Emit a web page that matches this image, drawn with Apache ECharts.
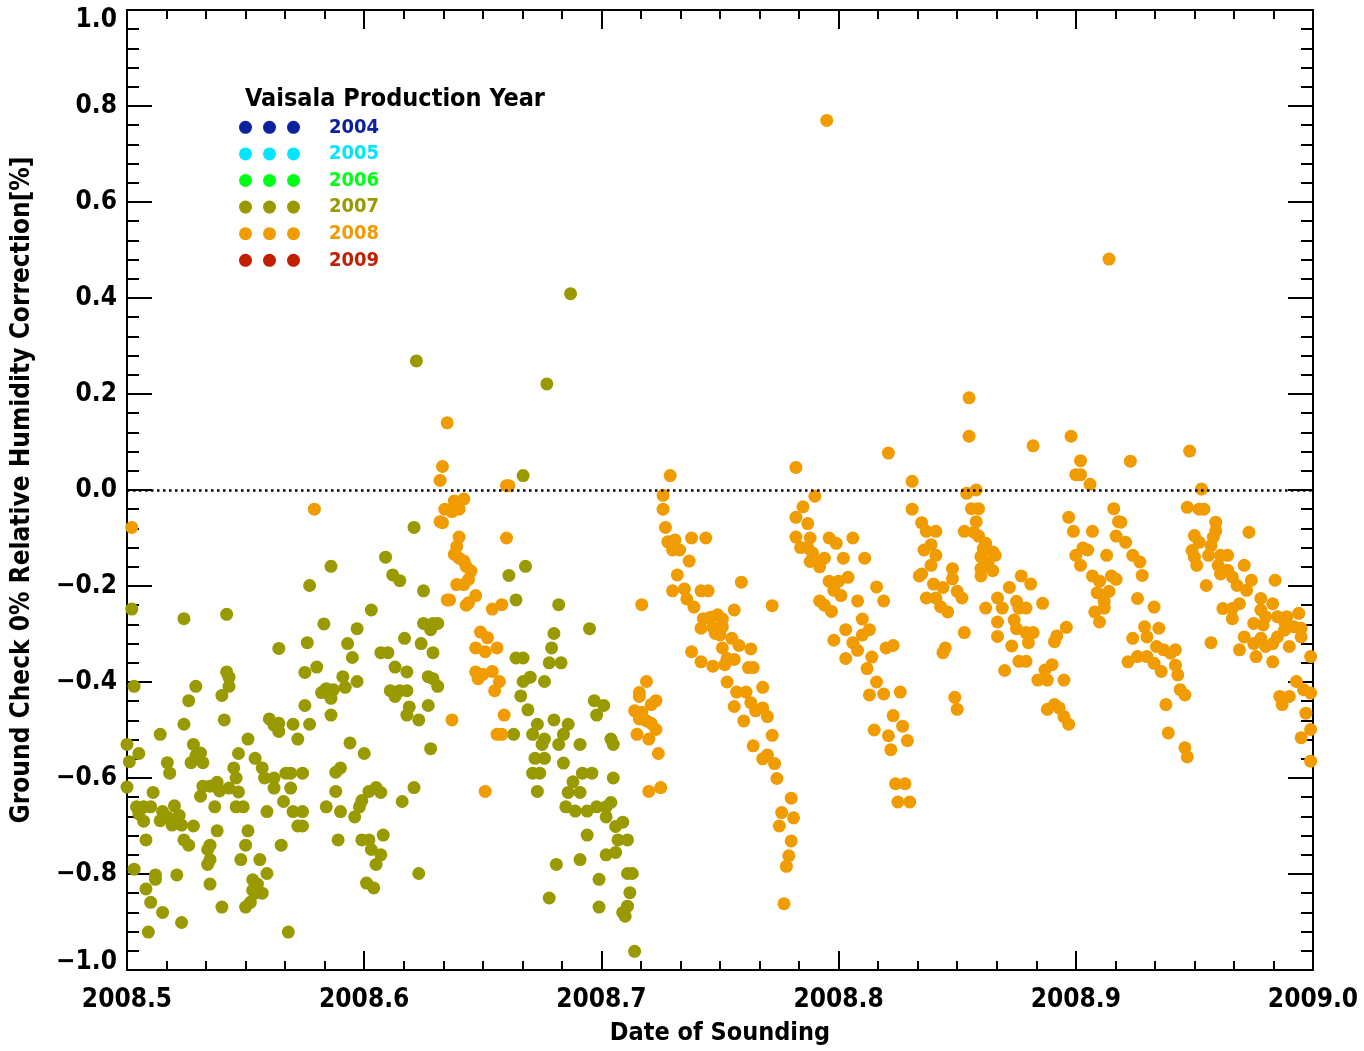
<!DOCTYPE html>
<html>
<head>
<meta charset="utf-8">
<script src="https://cdn.jsdelivr.net/npm/echarts@6/dist/echarts.min.js"></script>
<style>
html,body{margin:0;padding:0;background:#fff;}
#chart{width:1364px;height:1051px;}
</style>
</head>
<body>
<div id="chart"></div>
<script>
// ---- data ----
const xTicks = [2008.5, 2008.6, 2008.7, 2008.8, 2008.9, 2009.0];
const yTicks = [-1.0, -0.8, -0.6, -0.4, -0.2, 0.0, 0.2, 0.4, 0.6, 0.8, 1.0];
const years = ['2004', '2005', '2006', '2007', '2008', '2009'];
const yearColors = ['#0a22a0', '#00e6ff', '#00ff14', '#999900', '#f09b00', '#c41e00'];

// production year 2007 radiosondes: [date of sounding, correction %]
const points2007 = [
 [2008.502,-0.248],[2008.524,-0.268],[2008.542,-0.259],[2008.577,-0.199],[2008.564,-0.330],[2008.576,-0.318],
 [2008.575,-0.380],[2008.580,-0.369],[2008.542,-0.379],[2008.543,-0.390],[2008.543,-0.409],[2008.540,-0.428],
 [2008.503,-0.409],[2008.529,-0.409],[2008.526,-0.439],[2008.575,-0.449],[2008.577,-0.488],[2008.541,-0.479],
 [2008.524,-0.488],[2008.560,-0.477],[2008.562,-0.490],[2008.564,-0.503],[2008.564,-0.486],[2008.570,-0.488],
 [2008.572,-0.519],[2008.514,-0.509],[2008.551,-0.519],[2008.500,-0.530],[2008.505,-0.549],[2008.501,-0.566],
 [2008.528,-0.530],[2008.531,-0.548],[2008.529,-0.554],[2008.527,-0.568],[2008.532,-0.568],[2008.517,-0.568],
 [2008.518,-0.590],[2008.547,-0.549],[2008.545,-0.579],[2008.546,-0.600],[2008.543,-0.621],[2008.547,-0.629],
 [2008.554,-0.559],[2008.557,-0.579],[2008.558,-0.600],[2008.562,-0.600],[2008.562,-0.621],[2008.567,-0.590],
 [2008.569,-0.590],[2008.569,-0.621],[2008.574,-0.590],[2008.500,-0.619],[2008.511,-0.630],[2008.531,-0.638],
 [2008.532,-0.617],[2008.535,-0.617],[2008.538,-0.609],[2008.539,-0.627],[2008.537,-0.660],[2008.546,-0.660],
 [2008.549,-0.660],[2008.559,-0.670],[2008.566,-0.649],[2008.570,-0.670],[2008.574,-0.670],[2008.572,-0.700],
 [2008.574,-0.700],[2008.504,-0.660],[2008.507,-0.660],[2008.510,-0.660],[2008.505,-0.675],[2008.507,-0.690],
 [2008.515,-0.670],[2008.514,-0.689],[2008.517,-0.681],[2008.519,-0.698],[2008.520,-0.658],[2008.523,-0.698],
 [2008.522,-0.678],[2008.528,-0.700],[2008.508,-0.729],[2008.524,-0.729],[2008.526,-0.740],[2008.538,-0.710],
 [2008.551,-0.710],[2008.535,-0.740],[2008.534,-0.749],[2008.535,-0.770],[2008.534,-0.780],[2008.550,-0.740],
 [2008.548,-0.770],[2008.565,-0.740],[2008.503,-0.790],[2008.512,-0.802],[2008.512,-0.811],[2008.521,-0.802],
 [2008.556,-0.770],[2008.559,-0.799],[2008.553,-0.812],[2008.555,-0.821],[2008.557,-0.840],[2008.553,-0.834],
 [2008.554,-0.840],[2008.508,-0.831],[2008.510,-0.859],[2008.515,-0.880],[2008.535,-0.821],[2008.540,-0.869],
 [2008.550,-0.869],[2008.552,-0.859],[2008.523,-0.901],[2008.509,-0.921],[2008.568,-0.921],
 [2008.622,0.269],[2008.621,-0.078],[2008.609,-0.140],[2008.586,-0.159],[2008.612,-0.177],[2008.615,-0.189],
 [2008.661,-0.178],[2008.625,-0.210],[2008.664,-0.229],[2008.603,-0.250],[2008.583,-0.279],[2008.597,-0.289],
 [2008.625,-0.278],[2008.629,-0.278],[2008.631,-0.278],[2008.628,-0.291],[2008.617,-0.309],[2008.593,-0.320],
 [2008.595,-0.349],[2008.624,-0.320],[2008.607,-0.339],[2008.610,-0.339],[2008.629,-0.339],[2008.664,-0.350],
 [2008.613,-0.369],[2008.618,-0.379],[2008.591,-0.389],[2008.597,-0.399],[2008.592,-0.411],[2008.584,-0.414],
 [2008.587,-0.416],[2008.586,-0.434],[2008.582,-0.422],[2008.627,-0.389],[2008.629,-0.393],[2008.631,-0.409],
 [2008.611,-0.418],[2008.615,-0.418],[2008.618,-0.418],[2008.613,-0.430],[2008.619,-0.452],[2008.618,-0.469],
 [2008.623,-0.479],[2008.627,-0.449],[2008.586,-0.469],[2008.663,-0.509],[2008.594,-0.527],[2008.600,-0.549],
 [2008.590,-0.579],[2008.588,-0.588],[2008.628,-0.539],[2008.588,-0.628],[2008.584,-0.660],[2008.590,-0.670],
 [2008.602,-0.628],[2008.605,-0.620],[2008.607,-0.630],[2008.599,-0.647],[2008.598,-0.660],[2008.596,-0.681],
 [2008.616,-0.649],[2008.621,-0.620],[2008.589,-0.729],[2008.599,-0.729],[2008.602,-0.729],[2008.603,-0.749],
 [2008.607,-0.760],[2008.605,-0.780],[2008.608,-0.719],[2008.623,-0.799],[2008.601,-0.819],[2008.604,-0.829],
 [2008.677,0.221],[2008.687,0.409],[2008.667,0.030],[2008.682,-0.239],[2008.695,-0.289],[2008.668,-0.159],
 [2008.680,-0.299],[2008.679,-0.329],[2008.678,-0.360],[2008.683,-0.360],[2008.676,-0.399],[2008.667,-0.350],
 [2008.670,-0.390],[2008.667,-0.399],[2008.666,-0.429],[2008.669,-0.458],[2008.697,-0.439],[2008.701,-0.449],
 [2008.698,-0.469],[2008.680,-0.479],[2008.686,-0.488],[2008.673,-0.488],[2008.671,-0.509],[2008.676,-0.519],
 [2008.675,-0.530],[2008.682,-0.530],[2008.684,-0.509],[2008.691,-0.530],[2008.704,-0.519],[2008.705,-0.530],
 [2008.672,-0.559],[2008.676,-0.559],[2008.671,-0.590],[2008.674,-0.590],[2008.673,-0.628],[2008.684,-0.569],
 [2008.692,-0.590],[2008.696,-0.590],[2008.688,-0.608],[2008.686,-0.630],[2008.691,-0.630],[2008.685,-0.660],
 [2008.689,-0.669],[2008.694,-0.669],[2008.698,-0.660],[2008.702,-0.660],[2008.704,-0.651],[2008.702,-0.681],
 [2008.705,-0.600],[2008.706,-0.701],[2008.709,-0.692],[2008.694,-0.719],[2008.707,-0.729],[2008.711,-0.729],
 [2008.706,-0.755],[2008.702,-0.760],[2008.691,-0.770],[2008.681,-0.780],[2008.699,-0.811],[2008.711,-0.799],
 [2008.713,-0.799],[2008.712,-0.839],[2008.678,-0.850],[2008.699,-0.869],[2008.711,-0.867],[2008.709,-0.880],
 [2008.710,-0.888],[2008.714,-0.961]
];

// production year 2008 radiosondes: [date of sounding, correction %]
const points2008 = [
 [2008.502,-0.078],[2008.579,-0.040],
 [2008.635,0.140],[2008.633,0.049],[2008.632,0.020],[2008.661,0.009],[2008.660,0.009],[2008.638,-0.023],
 [2008.642,-0.019],[2008.640,-0.040],[2008.637,-0.045],[2008.634,-0.040],[2008.633,-0.068],[2008.632,-0.066],
 [2008.640,-0.098],[2008.639,-0.118],[2008.638,-0.134],[2008.640,-0.142],[2008.642,-0.148],[2008.643,-0.159],
 [2008.645,-0.169],[2008.644,-0.186],[2008.642,-0.197],[2008.639,-0.197],[2008.660,-0.100],[2008.636,-0.229],
 [2008.635,-0.229],[2008.647,-0.220],[2008.644,-0.235],[2008.643,-0.240],[2008.658,-0.239],[2008.654,-0.248],
 [2008.649,-0.296],[2008.652,-0.308],[2008.647,-0.329],[2008.651,-0.337],[2008.656,-0.329],[2008.647,-0.379],
 [2008.650,-0.384],[2008.648,-0.393],[2008.654,-0.378],[2008.657,-0.399],[2008.655,-0.418],[2008.637,-0.479],
 [2008.659,-0.469],[2008.658,-0.509],[2008.656,-0.509],[2008.651,-0.628],
 [2008.729,0.030],[2008.726,-0.011],[2008.726,-0.040],[2008.727,-0.078],[2008.728,-0.108],[2008.731,-0.104],
 [2008.730,-0.125],[2008.733,-0.125],[2008.738,-0.100],[2008.737,-0.148],[2008.744,-0.100],[2008.732,-0.177],
 [2008.730,-0.210],[2008.735,-0.206],[2008.736,-0.227],[2008.739,-0.244],[2008.742,-0.210],[2008.745,-0.210],
 [2008.743,-0.268],[2008.746,-0.265],[2008.749,-0.260],[2008.747,-0.286],[2008.742,-0.288],[2008.748,-0.299],
 [2008.738,-0.337],[2008.742,-0.358],[2008.747,-0.367],[2008.717,-0.239],[2008.719,-0.399],[2008.716,-0.422],
 [2008.716,-0.430],[2008.723,-0.439],[2008.721,-0.447],[2008.714,-0.460],[2008.717,-0.463],[2008.716,-0.477],
 [2008.719,-0.481],[2008.721,-0.486],[2008.723,-0.499],[2008.715,-0.509],[2008.720,-0.519],[2008.724,-0.549],
 [2008.720,-0.628],[2008.725,-0.620],
 [2008.795,0.770],[2008.782,0.047],[2008.821,0.077],[2008.831,0.018],[2008.790,-0.013],[2008.759,-0.192],
 [2008.772,-0.241],[2008.756,-0.250],[2008.751,-0.269],[2008.751,-0.285],[2008.750,-0.302],[2008.755,-0.309],
 [2008.758,-0.324],[2008.763,-0.331],[2008.751,-0.329],[2008.753,-0.351],[2008.756,-0.353],[2008.752,-0.364],
 [2008.762,-0.370],[2008.764,-0.370],[2008.753,-0.400],[2008.757,-0.421],[2008.761,-0.421],[2008.768,-0.411],
 [2008.756,-0.451],[2008.763,-0.443],[2008.765,-0.460],[2008.768,-0.454],[2008.770,-0.472],[2008.760,-0.481],
 [2008.772,-0.511],[2008.764,-0.533],[2008.770,-0.552],[2008.768,-0.560],[2008.773,-0.570],[2008.774,-0.601],
 [2008.780,-0.642],[2008.776,-0.672],[2008.781,-0.683],[2008.775,-0.700],[2008.780,-0.731],[2008.779,-0.762],
 [2008.778,-0.784],[2008.777,-0.862],
 [2008.782,-0.057],[2008.785,-0.035],[2008.787,-0.070],[2008.782,-0.098],[2008.784,-0.120],[2008.788,-0.100],
 [2008.787,-0.120],[2008.789,-0.131],[2008.791,-0.149],[2008.792,-0.160],[2008.788,-0.149],[2008.794,-0.142],
 [2008.796,-0.100],[2008.799,-0.111],[2008.806,-0.100],[2008.802,-0.142],[2008.811,-0.142],[2008.804,-0.182],
 [2008.800,-0.190],[2008.796,-0.190],[2008.798,-0.209],[2008.801,-0.220],[2008.792,-0.231],[2008.794,-0.240],
 [2008.797,-0.253],[2008.808,-0.231],[2008.816,-0.202],[2008.819,-0.231],[2008.810,-0.269],[2008.813,-0.291],
 [2008.810,-0.302],[2008.803,-0.291],[2008.798,-0.313],[2008.806,-0.318],[2008.808,-0.334],[2008.803,-0.351],
 [2008.814,-0.348],[2008.812,-0.372],[2008.816,-0.400],[2008.819,-0.425],[2008.813,-0.427],[2008.820,-0.329],
 [2008.823,-0.324],[2008.826,-0.421],[2008.823,-0.470],[2008.815,-0.500],[2008.821,-0.512],[2008.822,-0.541],
 [2008.827,-0.492],[2008.829,-0.522],[2008.824,-0.612],[2008.828,-0.612],[2008.825,-0.650],[2008.830,-0.650],
 [2008.831,-0.040],[2008.834,-0.179],
 [2008.914,0.481],[2008.855,0.192],[2008.855,0.112],[2008.882,0.092],[2008.898,0.112],[2008.902,0.061],
 [2008.900,0.032],[2008.902,0.032],[2008.906,0.012],[2008.854,-0.007],[2008.858,0.000],[2008.856,-0.039],
 [2008.859,-0.039],[2008.858,-0.066],[2008.853,-0.086],[2008.857,-0.088],[2008.859,-0.096],[2008.862,-0.111],
 [2008.861,-0.122],[2008.865,-0.129],[2008.866,-0.136],[2008.860,-0.139],[2008.863,-0.151],[2008.860,-0.164],
 [2008.865,-0.168],[2008.860,-0.179],
 [2008.835,-0.068],[2008.837,-0.086],[2008.841,-0.086],[2008.839,-0.114],[2008.836,-0.125],[2008.841,-0.136],
 [2008.839,-0.157],[2008.835,-0.175],[2008.848,-0.164],[2008.848,-0.185],[2008.840,-0.196],[2008.844,-0.203],
 [2008.837,-0.225],[2008.841,-0.225],[2008.843,-0.243],[2008.846,-0.254],[2008.850,-0.211],[2008.852,-0.225],
 [2008.853,-0.297],[2008.845,-0.329],[2008.844,-0.339],[2008.849,-0.432],[2008.850,-0.457],
 [2008.862,-0.246],[2008.867,-0.225],[2008.869,-0.246],[2008.872,-0.203],[2008.875,-0.232],[2008.876,-0.246],
 [2008.879,-0.246],[2008.877,-0.179],[2008.881,-0.196],[2008.886,-0.236],[2008.867,-0.275],[2008.874,-0.271],
 [2008.875,-0.289],[2008.867,-0.305],[2008.873,-0.325],[2008.879,-0.297],[2008.882,-0.297],[2008.880,-0.318],
 [2008.876,-0.357],[2008.879,-0.357],[2008.870,-0.376],[2008.892,-0.304],[2008.891,-0.316],[2008.896,-0.286],
 [2008.890,-0.364],[2008.887,-0.375],[2008.884,-0.396],[2008.888,-0.396],[2008.895,-0.396],[2008.891,-0.447],
 [2008.888,-0.457],[2008.893,-0.454],[2008.895,-0.472],[2008.897,-0.488],
 [2008.897,-0.057],[2008.899,-0.086],[2008.907,-0.086],[2008.900,-0.136],[2008.903,-0.121],[2008.905,-0.125],
 [2008.902,-0.157],[2008.907,-0.179],[2008.910,-0.190],[2008.913,-0.136],[2008.915,-0.179],[2008.917,-0.186],
 [2008.914,-0.211],[2008.909,-0.214],[2008.912,-0.232],[2008.908,-0.254],[2008.912,-0.246],[2008.910,-0.275],
 [2008.916,-0.039],[2008.918,-0.066],[2008.917,-0.096],
 [2008.923,0.060],[2008.948,0.081],[2008.953,0.002],[2008.947,-0.036],[2008.952,-0.040],[2008.954,-0.040],
 [2008.959,-0.067],[2008.959,-0.085],[2008.958,-0.098],[2008.957,-0.116],[2008.956,-0.136],[2008.973,-0.088],
 [2008.950,-0.095],[2008.952,-0.109],[2008.949,-0.126],[2008.950,-0.140],[2008.951,-0.157],[2008.955,-0.199],
 [2008.961,-0.136],[2008.964,-0.136],[2008.960,-0.157],[2008.961,-0.175],[2008.964,-0.167],[2008.966,-0.181],
 [2008.971,-0.157],[2008.968,-0.199],[2008.972,-0.209],[2008.974,-0.188],[2008.984,-0.188],[2008.962,-0.247],
 [2008.966,-0.247],[2008.969,-0.237],[2008.966,-0.268],
 [2008.978,-0.226],[2008.983,-0.237],[2008.978,-0.250],[2008.980,-0.264],[2008.975,-0.278],[2008.979,-0.281],
 [2008.985,-0.264],[2008.988,-0.275],[2008.989,-0.264],[2008.992,-0.285],[2008.994,-0.257],[2008.995,-0.288],
 [2008.995,-0.306],[2008.971,-0.306],[2008.975,-0.320],[2008.978,-0.309],[2008.980,-0.326],[2008.983,-0.320],
 [2008.985,-0.306],[2008.988,-0.292],[2008.990,-0.326],[2008.969,-0.333],[2008.976,-0.347],[2008.983,-0.358],
 [2008.957,-0.318],
 [2008.999,-0.347],[2008.993,-0.399],[2008.986,-0.430],[2008.990,-0.430],[2008.987,-0.447],[2008.996,-0.416],
 [2008.999,-0.423],[2008.997,-0.465],[2008.995,-0.516],[2008.999,-0.499],[2008.999,-0.565],
 [2008.919,-0.067],[2008.921,-0.109],[2008.924,-0.136],[2008.927,-0.150],[2008.928,-0.178],[2008.926,-0.226],
 [2008.933,-0.244],[2008.929,-0.285],[2008.935,-0.288],[2008.924,-0.309],[2008.930,-0.306],[2008.934,-0.326],
 [2008.937,-0.333],[2008.940,-0.340],[2008.942,-0.333],[2008.922,-0.358],[2008.926,-0.347],[2008.930,-0.347],
 [2008.933,-0.361],[2008.936,-0.378],[2008.942,-0.365],[2008.943,-0.385],[2008.944,-0.416],[2008.946,-0.427],
 [2008.938,-0.447],[2008.939,-0.506],[2008.946,-0.537],[2008.947,-0.556]
];

// ---- chart ----
const FONT = '"DejaVu Sans Condensed", "DejaVu Sans", sans-serif';
const chart = echarts.init(document.getElementById('chart'), null, {renderer: 'canvas'});

function fmtY(v) {
  const s = Math.abs(v).toFixed(1);
  return (v < -1e-9 ? '\u2212' : '') + s;
}
const labelFont = {fontFamily: FONT, fontWeight: 'bold', fontSize: 26, color: '#000'};

const tickLine = {color: '#000', width: 2};
function xAxisDef(pos, showLabel) {
  return {
    type: 'value', position: pos, min: xTicks[0], max: xTicks[xTicks.length - 1],
    interval: 0.1,
    axisLine: {show: true, onZero: false, lineStyle: {color: '#000', width: 2}},
    axisTick: {show: true, inside: true, length: 19, lineStyle: tickLine},
    minorTick: {show: true, splitNumber: 6, length: 9, lineStyle: tickLine},
    splitLine: {show: false},
    axisLabel: Object.assign({show: showLabel, formatter: v => v.toFixed(1), margin: 17}, labelFont),
    name: showLabel ? 'Date of Sounding' : '', nameLocation: 'middle', nameGap: 51,
    nameTextStyle: {fontFamily: FONT, fontWeight: 'bold', fontSize: 25, color: '#000'}
  };
}
function yAxisDef(pos, showLabel) {
  return {
    type: 'value', position: pos, min: yTicks[0], max: yTicks[yTicks.length - 1],
    interval: 0.2,
    axisLine: {show: true, onZero: false, lineStyle: {color: '#000', width: 2}},
    axisTick: {show: true, inside: true, length: 25, lineStyle: tickLine},
    minorTick: {show: true, splitNumber: 5, length: 12, lineStyle: tickLine},
    splitLine: {show: false},
    axisLabel: Object.assign({
      show: showLabel, margin: 10,
      formatter: v => {
        const s = fmtY(v);
        if (v <= -0.999) return '{lo|' + s + '}';
        if (v >= 0.999) return '{hi|' + s + '}';
        return s;
      },
      rich: {
        lo: Object.assign({padding: [0, 0, 16, 0]}, labelFont),
        hi: Object.assign({padding: [20, 0, 0, 0]}, labelFont)
      }
    }, labelFont),
    name: showLabel ? 'Ground Check 0% Relative Humidity Correction[%]' : '',
    nameLocation: 'middle', nameGap: 92, nameRotate: 90,
    nameTextStyle: {fontFamily: FONT, fontWeight: 'bold', fontSize: 26, color: '#000'}
  };
}

// legend drawn as graphic elements
const legendGraphics = [{
  type: 'text', x: 245, y: 99,
  style: {text: 'Vaisala Production Year', fontFamily: FONT, fontWeight: 'bold', fontSize: 25, fill: '#000',
          verticalAlign: 'middle', textAlign: 'left'}
}];
years.forEach((yr, i) => {
  const cy = 127.3 + i * 26.6;
  [245.5, 269.5, 293.5].forEach(cx => {
    legendGraphics.push({type: 'circle', shape: {cx: cx, cy: cy, r: 6.5}, style: {fill: yearColors[i]}});
  });
  legendGraphics.push({
    type: 'text', x: 329, y: cy,
    style: {text: yr, fontFamily: FONT, fontWeight: 'bold', fontSize: 20, fill: yearColors[i],
            verticalAlign: 'middle', textAlign: 'left'}
  });
});

chart.setOption({
  animation: false,
  backgroundColor: '#fff',
  grid: {left: 127, right: 51, top: 10, bottom: 78, containLabel: false},
  xAxis: [xAxisDef('bottom', true), xAxisDef('top', false)],
  yAxis: [yAxisDef('left', true), yAxisDef('right', false)],
  graphic: legendGraphics,
  series: [
    {
      name: 'zero', type: 'scatter', data: [], z: 1,
      markLine: {silent: true, symbol: ['none', 'none'], label: {show: false},
                 lineStyle: {color: '#000', width: 2.5, type: [2.5, 3.5]},
                 emphasis: {disabled: true},
                 data: [{yAxis: 0}]}
    },
    {
      name: '2007', type: 'scatter', data: points2007, symbol: 'circle', symbolSize: 13, z: 2,
      itemStyle: {color: yearColors[3], opacity: 1}
    },
    {
      name: '2008', type: 'scatter', data: points2008, symbol: 'circle', symbolSize: 13, z: 3,
      itemStyle: {color: yearColors[4], opacity: 1}
    }
  ]
});
</script>
</body>
</html>
